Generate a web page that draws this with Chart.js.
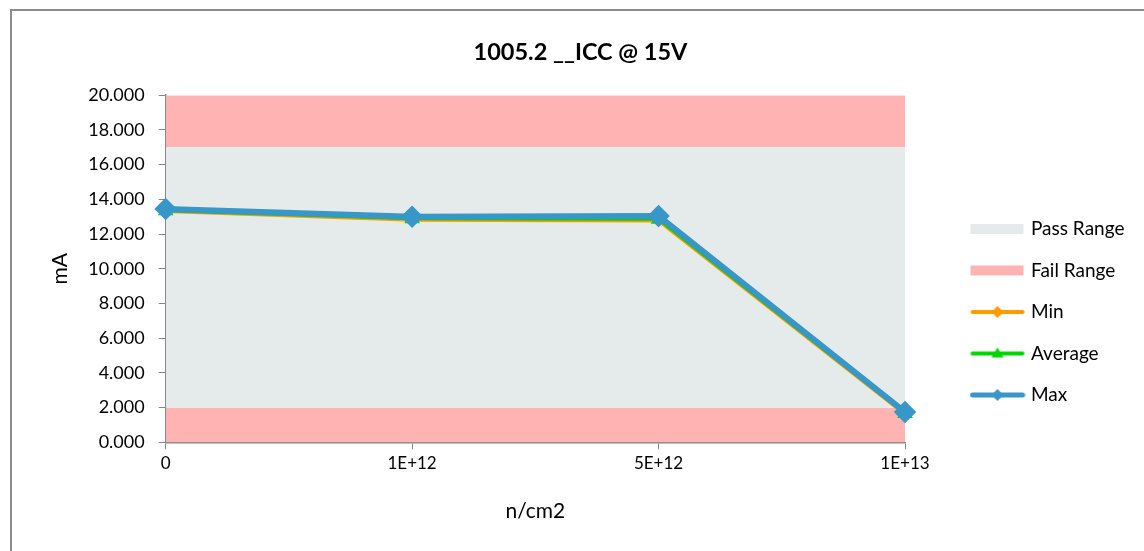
<!DOCTYPE html>
<html>
<head>
<meta charset="utf-8">
<script src="https://cdn.jsdelivr.net/npm/chart.js@4"></script>
<style>
  html, body { margin: 0; padding: 0; background: #fff; overflow: hidden; }
  #frame { position: absolute; left: 10px; top: 9px; width: 1132px; height: 540px;
           border-left: 2px solid #8c8c8c; border-top: 2px solid #8c8c8c; }
  #wrap { position: absolute; left: 0; top: 0; width: 1144px; height: 551px; }
</style>
</head>
<body>
<div id="frame"></div>
<div id="wrap"><canvas id="chart"></canvas></div>
<script>
// categories (fluence)
const fluence = ['0', '1E+12', '5E+12', '1E+13'];

// measured ICC (mA)
const minValues = [13.30, 12.80, 12.75, 1.60];
const avgValues = [13.35, 12.88, 12.85, 1.66];
const maxValues = [13.45, 13.00, 13.04, 1.75];

// limit bands
const failLow = [2, 2, 2, 2];
const passHigh = [17, 17, 17, 17];
const axisTop = [20, 20, 20, 20];

const yTicks = [0, 2, 4, 6, 8, 10, 12, 14, 16, 18, 20];

const FONT = 'Lato, "Open Sans", sans-serif';
const passColor = '#e5eaea';
const failColor = '#ffb3b3';
const minColor = '#ff9a00';
const avgColor = '#00d600';
const maxColor = '#3797c9';

function legendIcon(kind, color, marker) {
    const c = document.createElement('canvas');
    c.width = 56;
    c.height = 16;
    const g = c.getContext('2d');
    if (kind === 'box') {
        g.fillStyle = color;
        g.fillRect(1, 3, 53, 10);
        return c;
    }
    g.strokeStyle = color;
    g.lineCap = 'round';
    g.lineWidth = marker === 'max' ? 5 : 4;
    g.beginPath();
    g.moveTo(3, 8);
    g.lineTo(53, 8);
    g.stroke();
    g.fillStyle = color;
    g.beginPath();
    if (marker === 'tri') {
        g.moveTo(28, 2); g.lineTo(34, 12); g.lineTo(22, 12);
    } else {
        g.moveTo(28, 2); g.lineTo(34, 8); g.lineTo(28, 14); g.lineTo(22, 8);
    }
    g.closePath();
    g.fill();
    return c;
}

const icons = {
    'Pass Range': legendIcon('box', passColor),
    'Fail Range': legendIcon('box', failColor),
    'Min': legendIcon('line', minColor, 'dia'),
    'Average': legendIcon('line', avgColor, 'tri'),
    'Max': legendIcon('line', maxColor, 'max')
};

// fixed legend width, gap between plot and legend, legend lowered like the Excel layout
const legendShift = {
    id: 'legendShift',
    afterInit(chart) {
        const lg = chart.legend;
        const fit = lg.fit;
        lg.fit = function () {
            fit.call(this);
            this.width = 208;
        };
    },
    afterLayout(chart) {
        const lg = chart.legend;
        lg.left += 46;
        lg.right = chart.width;
        lg.width = lg.right - lg.left;
        lg.top += 31;
        lg.bottom += 31;
    }
};

const ctx = document.getElementById('chart').getContext('2d');
new Chart(ctx, {
    type: 'line',
    data: {
        labels: fluence,
        datasets: [
            { label: 'Pass Range', data: passHigh, fill: 1, backgroundColor: passColor,
              borderWidth: 0, pointRadius: 0, order: 10 },
            { label: 'Fail Range', data: failLow, fill: 'origin', backgroundColor: failColor,
              borderWidth: 0, pointRadius: 0, order: 11 },
            { label: 'Fail High', data: axisTop, fill: 0, backgroundColor: failColor,
              borderWidth: 0, pointRadius: 0, order: 12 },
            { label: 'Min', data: minValues, borderColor: minColor, backgroundColor: minColor,
              borderWidth: 3, pointStyle: 'rectRot', pointRadius: 4, fill: false, order: 2 },
            { label: 'Average', data: avgValues, borderColor: avgColor, backgroundColor: avgColor,
              borderWidth: 3, pointStyle: 'triangle', pointRadius: 6, fill: false, order: 1 },
            { label: 'Max', data: maxValues, borderColor: maxColor, backgroundColor: maxColor,
              borderWidth: 6, pointStyle: 'rectRot', pointRadius: 7, fill: false, order: 0 }
        ]
    },
    options: {
        responsive: true,
        maintainAspectRatio: false,
        animation: false,
        layout: { padding: { left: 48, right: 31, top: 38, bottom: 27 } },
        plugins: {
            title: {
                display: true,
                text: '1005.2 __ICC @ 15V',
                color: '#000',
                font: { family: FONT, size: 23.5, weight: 'bold' },
                padding: { top: 0, bottom: 29 }
            },
            legend: {
                position: 'right',
                labels: {
                    color: '#000',
                    font: { family: FONT, size: 19 },
                    usePointStyle: true,
                    pointStyleWidth: 48,
                    padding: 22.5,
                    generateLabels: chart => chart.data.datasets
                        .map((ds, i) => ({
                            text: ds.label,
                            datasetIndex: i,
                            pointStyle: icons[ds.label],
                            fontColor: '#000',
                            lineWidth: 0,
                            strokeStyle: 'transparent',
                            fillStyle: 'transparent'
                        }))
                        .filter(it => it.text !== 'Fail High')
                }
            },
            tooltip: { enabled: false }
        },
        scales: {
            x: {
                offset: false,
                grid: { drawOnChartArea: false, drawTicks: true, tickLength: 7, color: '#868686' },
                border: { color: '#868686', width: 1.5 },
                ticks: { color: '#000', font: { family: FONT, size: 17 }, padding: 4, maxRotation: 0 },
                title: { display: true, text: 'n/cm2', color: '#000',
                         font: { family: FONT, size: 21 }, padding: { top: 21, bottom: 0 } }
            },
            y: {
                min: 0,
                max: 20,
                afterBuildTicks: axis => { axis.ticks = yTicks.map(v => ({ value: v })); },
                grid: { drawOnChartArea: false, drawTicks: true, tickLength: 7, color: '#868686' },
                border: { color: '#868686', width: 1.5 },
                ticks: { color: '#000', font: { family: FONT, size: 18 }, padding: 14,
                         callback: v => Number(v).toFixed(3) },
                title: { display: true, text: 'mA', color: '#000',
                         font: { family: FONT, size: 21 }, padding: { top: 0, bottom: 1 } }
            }
        }
    },
    plugins: [legendShift]
});
</script>
</body>
</html>
